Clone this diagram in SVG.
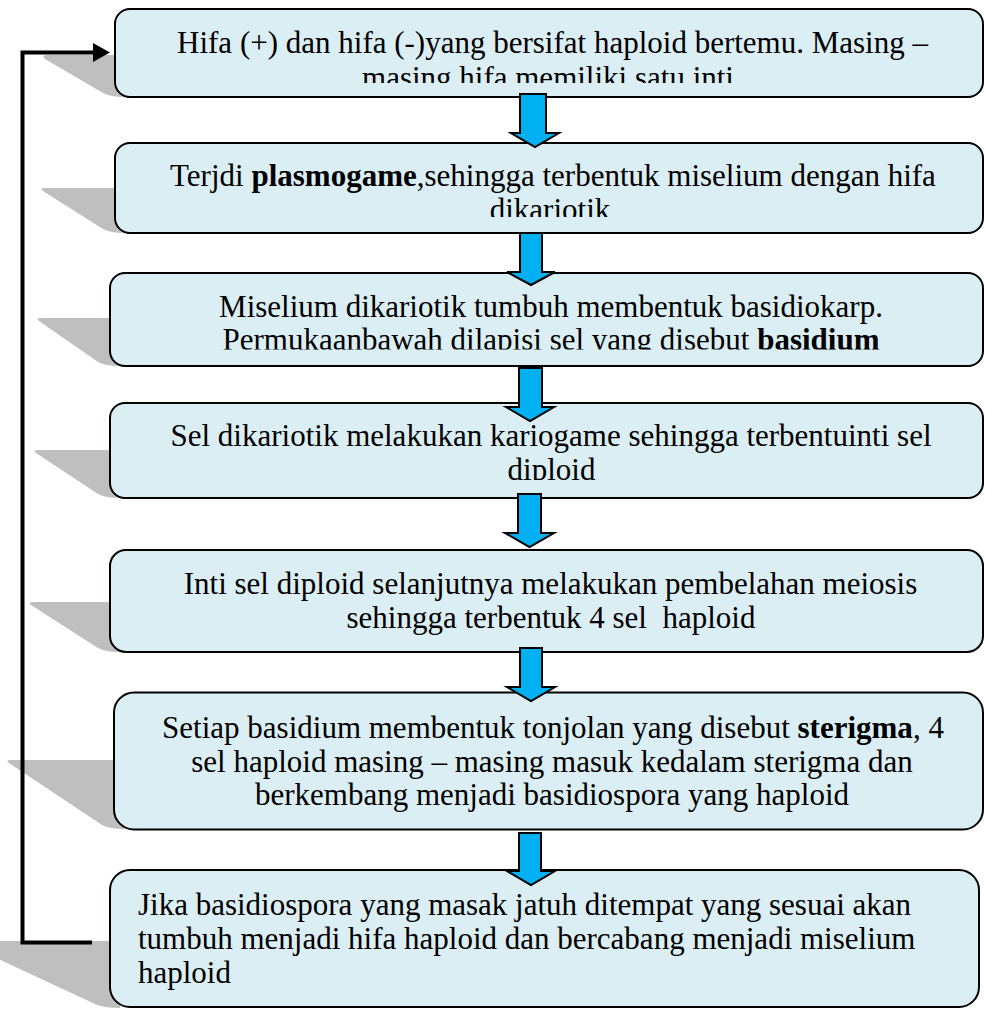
<svg xmlns="http://www.w3.org/2000/svg" width="985" height="1010" viewBox="0 0 985 1010">
<defs>
<style>
.box{fill:#daeef3;stroke:#000;stroke-width:2}
.shadow{fill:#bfbfbf}
.t{font-family:"Liberation Serif","Times New Roman",serif;font-size:31px;fill:#000}
.c{text-anchor:middle}
.b{font-weight:bold}
.arrow{fill:#00b0f0;stroke:#000;stroke-width:2;stroke-linejoin:miter}
.conn{fill:none;stroke:#000;stroke-width:4;stroke-linejoin:miter}
.head{fill:#000}
</style>
<clipPath id="clip1"><rect x="100" y="0" width="885" height="83"/></clipPath>
<clipPath id="clip2"><rect x="100" y="100" width="885" height="117"/></clipPath>
<clipPath id="clip3"><rect x="100" y="240" width="885" height="109.5"/></clipPath>
<clipPath id="clip4"><rect x="100" y="370" width="885" height="110"/></clipPath>
</defs>

<g id="node1">
<path class="shadow" d="M125,55 H47 Q41,55 45,59 L103,93 Q110,97 125,97 Z"/>
<rect class="box" x="115" y="9" width="868" height="88" rx="15" ry="15"/>
<g clip-path="url(#clip1)">
<text class="t c" x="552.5" y="53">Hifa (+) dan hifa (-)yang bersifat haploid bertemu. Masing –</text>
<text class="t c" x="548" y="88">masing hifa memiliki satu inti</text>
</g>
</g>

<g id="node2">
<path class="shadow" d="M125,188 H45 Q39,188 43,191 L103,229 Q110,233 125,233 Z"/>
<rect class="box" x="115" y="143" width="868" height="90" rx="15" ry="15"/>
<g clip-path="url(#clip2)">
<text class="t c" x="553" y="185.5">Terjdi <tspan class="b">plasmogame</tspan>,sehingga terbentuk miselium dengan hifa</text>
<text class="t c" x="550" y="220">dikariotik</text>
</g>
</g>

<g id="node3">
<path class="shadow" d="M120,318 H41 Q35,318 39,321 L98,362 Q105,366 120,366 Z"/>
<rect class="box" x="110" y="273" width="873" height="93" rx="15" ry="15"/>
<g clip-path="url(#clip3)">
<text class="t c" x="551" y="316.5">Miselium dikariotik tumbuh membentuk basidiokarp.</text>
<text class="t c" x="551" y="350">Permukaanbawah dilapisi sel yang disebut <tspan class="b">basidium</tspan></text>
</g>
</g>

<g id="node4">
<path class="shadow" d="M120,450 H38 Q32,450 36,453 L98,494 Q105,498 120,498 Z"/>
<rect class="box" x="110" y="403" width="873" height="95" rx="15" ry="15"/>
<g clip-path="url(#clip4)">
<text class="t c" x="551" y="446">Sel dikariotik melakukan kariogame sehingga terbentuinti sel</text>
<text class="t c" x="551.5" y="479.5">diploid</text>
</g>
</g>

<g id="node5">
<path class="shadow" d="M120,602 H33 Q27,602 31,605 L98,648 Q105,652 120,652 Z"/>
<rect class="box" x="110" y="550" width="873" height="102" rx="16" ry="16"/>
<text class="t c" x="550.5" y="594">Inti sel diploid selanjutnya melakukan pembelahan meiosis</text>
<text class="t c" x="551" y="628" xml:space="preserve">sehingga terbentuk 4 sel  haploid</text>
</g>

<g id="node6">
<path class="shadow" d="M124,760 H11 Q5,760 9,763 L102,825 Q109,829 124,829 Z"/>
<rect class="box" x="114" y="692.5" width="869" height="137" rx="20" ry="20"/>
<text class="t c" x="553" y="738">Setiap basidium membentuk tonjolan yang disebut <tspan class="b">sterigma</tspan>, 4</text>
<text class="t c" x="552" y="772">sel haploid masing – masing masuk kedalam sterigma dan</text>
<text class="t c" x="552" y="805">berkembang menjadi basidiospora yang haploid</text>
</g>

<g id="node7">
<path class="shadow" d="M120,941 H-40 L95,1004 Q103,1008 120,1008 Z"/>
<rect class="box" x="110" y="870" width="869" height="137" rx="20" ry="20"/>
<text class="t" x="138" y="914.5">Jika basidiospora yang masak jatuh ditempat yang sesuai akan</text>
<text class="t" x="138" y="948.5">tumbuh menjadi hifa haploid dan bercabang menjadi miselium</text>
<text class="t" x="138" y="982.5">haploid</text>
</g>

<g id="connectors">
<polygon class="arrow" points="520,94 546,94 546,133 559,133 535,147 511,133 520,133"/>
<polygon class="arrow" points="520,233 542,233 542,272 555,272 531,285 507,272 520,272"/>
<polygon class="arrow" points="519,368 542,368 542,407 554,407 530,421 506,407 519,407"/>
<polygon class="arrow" points="518,494 541,494 541,533 554,533 529.5,547 505,533 518,533"/>
<polygon class="arrow" points="520,648 542,648 542,687 555,687 531,701 507,687 520,687"/>
<polygon class="arrow" points="519,833 541,833 541,871 555,871 531,885 507,871 519,871"/>
<path class="conn" d="M92,942.5 H22.5 V52.5 H96"/>
<polygon class="head" points="93,43 110,52.5 93,62"/>
</g>
</svg>
